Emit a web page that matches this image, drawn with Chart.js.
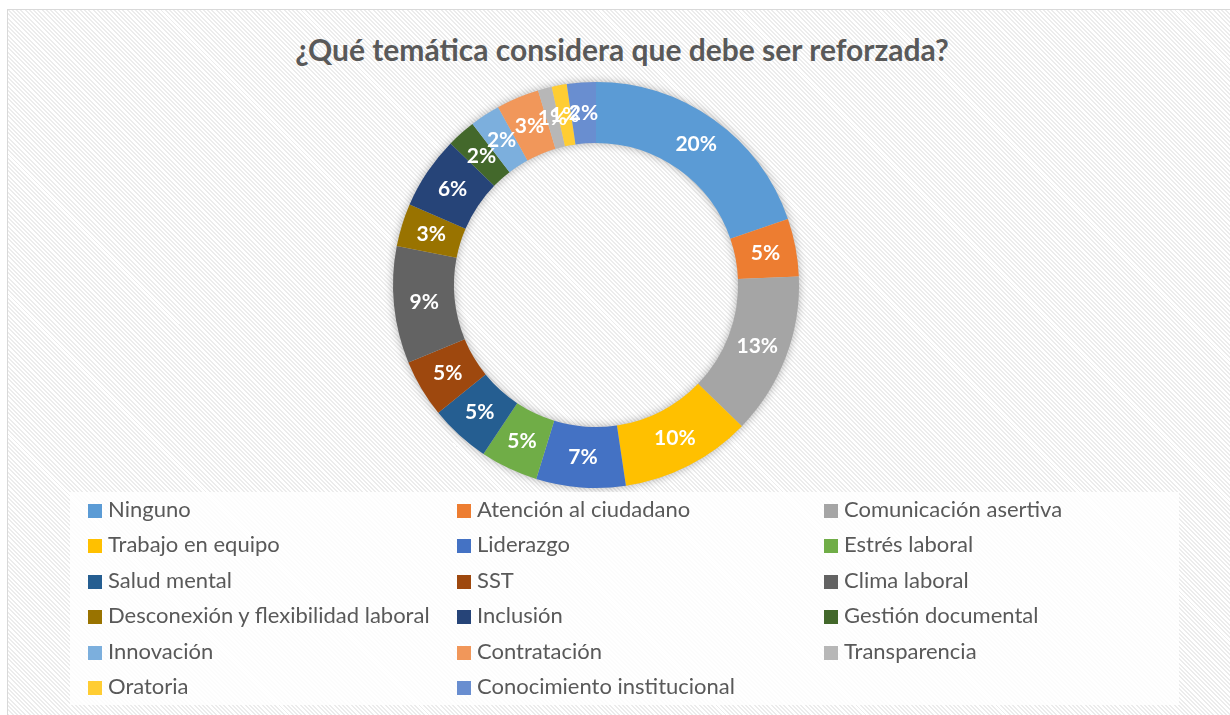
<!DOCTYPE html>
<html>
<head>
<meta charset="utf-8">
<script src="https://cdn.jsdelivr.net/npm/chart.js@4.4.1/dist/chart.umd.min.js"></script>
<style>
    body { margin: 0; width: 1230px; height: 715px; overflow: hidden; background: #fff; font-family: Lato, "Open Sans", sans-serif; }
    #frame {
        position: absolute; left: 7px; top: 9px; width: 1240px; height: 720px;
        border-left: 1px solid #d9d9d9; border-top: 1px solid #d9d9d9;
        background: repeating-linear-gradient(45deg, #ffffff 0px, #ffffff 1.6px, #ececec 1.6px, #ececec 3px);
    }
    #title {
        position: absolute; left: 0; top: 31px; width: 1244px; text-align: center;
        font-weight: bold; font-size: 30px; color: #595959;
    }
    #chartBox { position: absolute; left: 0; top: 72px; width: 1192px; height: 426px; }
    #legend {
        position: absolute; left: 70px; top: 492px; width: 1109px; height: 213px;
        background: rgba(255, 255, 255, 0.85);
    }
    .item { position: absolute; height: 26px; line-height: 26px; font-size: 22px; color: #595959; white-space: nowrap; }
    .item span { display: inline-block; width: 14px; height: 14px; margin-right: 6px; vertical-align: -1px; }
</style>
</head>
<body>
<div id="frame"></div>
<div id="title">¿Qué temática considera que debe ser reforzada?</div>
<div id="chartBox"><canvas id="donutChart"></canvas></div>
<div id="legend"></div>
<script>
// Survey data (share of answers, %)
const topics = [
    'Ninguno', 'Atención al ciudadano', 'Comunicación asertiva',
    'Trabajo en equipo', 'Liderazgo', 'Estrés laboral',
    'Salud mental', 'SST', 'Clima laboral',
    'Desconexión y flexibilidad laboral', 'Inclusión', 'Gestión documental',
    'Innovación', 'Contratación', 'Transparencia',
    'Oratoria', 'Conocimiento institucional'
];
const percents = [19.7, 4.6, 12.9, 10.4, 7.1, 4.6, 4.8, 4.6, 9.3, 3.4, 5.8, 2.3, 2.4, 3.4, 1.1, 1.2, 2.3];
const colors = [
    '#5B9BD5', '#ED7D31', '#A5A5A5',
    '#FFC000', '#4472C4', '#70AD47',
    '#255E91', '#9E480E', '#636363',
    '#997300', '#264478', '#43682B',
    '#7CAFDD', '#F1975A', '#B7B7B7',
    '#FFCD33', '#698ED0'
];

// Build legend in 3 columns
const legendEl = document.getElementById('legend');
const colX = [18, 387, 754];
topics.forEach((name, i) => {
    const div = document.createElement('div');
    div.className = 'item';
    div.style.left = colX[i % 3] + 'px';
    div.style.top = (4 + Math.floor(i / 3) * 35.4) + 'px';
    div.innerHTML = '<span style="background:' + colors[i] + '"></span>' + name;
    legendEl.appendChild(div);
});

// Soft shadow under the ring
const ringShadow = {
    id: 'ringShadow',
    beforeDatasetsDraw(chart) {
        const arc = chart.getDatasetMeta(0).data[0];
        if (!arc) return;
        const ctx = chart.ctx;
        ctx.save();
        ctx.shadowColor = 'rgba(0, 0, 0, 0.3)';
        ctx.shadowBlur = 9;
        ctx.fillStyle = '#cccccc';
        ctx.beginPath();
        ctx.arc(arc.x, arc.y, arc.outerRadius, 0, Math.PI * 2);
        ctx.arc(arc.x, arc.y, arc.innerRadius, 0, Math.PI * 2, true);
        ctx.fill();
        ctx.restore();
    }
};

// Percent labels in the middle of each slice
const sliceLabels = {
    id: 'sliceLabels',
    afterDatasetsDraw(chart) {
        const ctx = chart.ctx;
        const data = chart.data.datasets[0].data;
        const total = data.reduce((a, b) => a + b, 0);
        ctx.save();
        ctx.font = 'bold 21px Lato, "Open Sans", sans-serif';
        ctx.fillStyle = '#ffffff';
        ctx.textAlign = 'center';
        ctx.textBaseline = 'middle';
        chart.getDatasetMeta(0).data.forEach((arc, i) => {
            const pos = arc.tooltipPosition();
            ctx.fillText(Math.round(data[i] / total * 100) + '%', pos.x, pos.y);
        });
        ctx.restore();
    }
};

const ctx = document.getElementById('donutChart').getContext('2d');
new Chart(ctx, {
    type: 'doughnut',
    data: {
        labels: topics,
        datasets: [{
            data: percents,
            backgroundColor: colors,
            borderWidth: 0
        }]
    },
    options: {
        responsive: true,
        maintainAspectRatio: false,
        animation: false,
        cutout: '70%',
        layout: { padding: 10 },
        plugins: {
            legend: { display: false },
            tooltip: { enabled: false }
        }
    },
    plugins: [ringShadow, sliceLabels]
});
</script>
</body>
</html>
